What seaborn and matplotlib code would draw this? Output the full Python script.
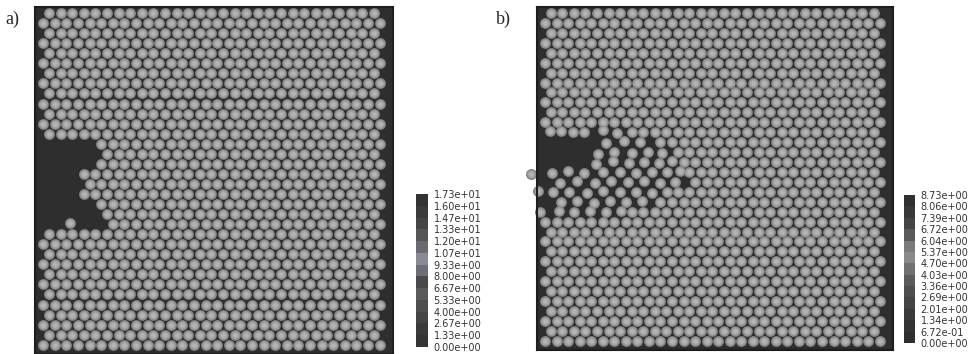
import numpy as np
import pandas as pd
import matplotlib
matplotlib.use("Agg")
import matplotlib.pyplot as plt
from matplotlib.colors import ListedColormap, BoundaryNorm
from matplotlib.cm import ScalarMappable
import seaborn as sns

sns.set_style("white")

# hexagonal packing, particle diameter = 1
n_rows = 34
n_long = 30
n_short = 29
row_step = 0.866

# panel a: rows emptied on the left side, up to this x
a_cut_rows = [12, 13, 14, 15, 16, 17, 18, 19, 20]
a_cut_x = [5.5, 5.0, 4.2, 3.3, 3.3, 3.3, 4.2, 4.8, 4.8]
a_extra_x = [2.3]
a_extra_y = [10.5]

# panel b: rows emptied on the left side, then the scattered particles
b_cut_rows = [13, 14, 15, 16, 17, 18, 19, 20, 21]
b_cut_x = [7.5, 10.0, 11.5, 12.3, 12.5, 12.0, 11.0, 9.5, 7.0]
b_extra_x = [0.4, 1.4, 2.4, 3.4, 5.0, 6.2,
             5.3, 6.8, 8.2,
             4.6, 6.0, 7.5, 8.9, 10.1,
             4.4, 5.9, 7.3, 8.6, 9.9, 11.0,
             -1.2, 0.6, 2.0, 3.4, 5.0, 6.5, 7.9, 9.3, 10.6, 11.7,
             1.3, 2.8, 4.3, 5.7, 7.2, 8.6, 10.0, 11.3,
             -0.6, 0.7, 2.1, 3.6, 5.0, 6.5, 7.9, 9.3, 10.6,
             1.4, 2.8, 4.2, 5.6, 7.0, 8.4,
             -0.45, 1.2, 2.5, 3.9, 5.3, 6.6]
b_extra_y = [18.25, 18.25, 18.2, 18.2, 18.35, 18.1,
             17.2, 17.45, 17.3,
             16.3, 16.5, 16.35, 16.5, 16.4,
             15.4, 15.65, 15.5, 15.6, 15.5, 15.65,
             14.5, 14.6, 14.8, 14.6, 14.7, 14.75, 14.6, 14.75, 14.7, 14.8,
             13.8, 13.95, 13.8, 13.9, 13.85, 13.9, 13.8, 13.85,
             13.1, 12.95, 13.0, 12.9, 13.05, 12.95, 13.0, 12.9, 13.0,
             12.1, 12.15, 12.05, 12.15, 12.1, 12.2,
             11.2, 11.3, 11.25, 11.3, 11.2, 11.3]

# colour bars
a_ticks = [0.0, 1.33, 2.67, 4.00, 5.33, 6.67, 8.00, 9.33, 10.7, 12.0, 13.3, 14.7, 16.0, 17.3]
b_ticks = [0.0, 0.672, 1.34, 2.01, 2.69, 3.36, 4.03, 4.70, 5.37, 6.04, 6.72, 7.39, 8.06, 8.73]
a_colors = ['#353535', '#3a3a3a', '#444444', '#4e4e4e', '#5a5a5a', '#4a4a4a', '#6e6e76',
            '#8a8a96', '#6a6a70', '#555555', '#454545', '#3b3b3b', '#333333']
b_colors = ['#2e2e2e', '#333333', '#3a3a3a', '#444444', '#4e4e4e', '#5c5c5c', '#707070',
            '#8a8a8a', '#7a7a7a', '#5a5a5a', '#444444', '#383838', '#303030']


def particles(cut_rows, cut_x, extra_x, extra_y):
    cuts = dict(zip(cut_rows, cut_x))
    xs, ys = [], []
    for i in range(n_rows):
        if i % 2 == 0:
            row = np.arange(n_long) * 1.0
        else:
            row = np.arange(n_short) + 0.5
        row = row[row >= cuts.get(i, -1)]
        xs += list(row)
        ys += [i * row_step] * len(row)
    xs += extra_x
    ys += extra_y
    return pd.DataFrame({"x": xs, "y": ys})


def draw_panel(ax, df):
    ax.set_facecolor('#2e2e2e')
    # shaded spheres: dark rim, grey body, light centre
    for s, c in [(62, '#7a7a7a'), (46, '#929292'), (26, '#a6a6a6'), (10, '#b4b4b4')]:
        sns.scatterplot(data=df, x="x", y="y", ax=ax, s=s, color=c,
                        linewidth=0, legend=False, clip_on=False)
    ax.set_xlim(-0.7, 30.15)
    ax.set_ylim(-0.8, 29.1)
    ax.set_xticks([])
    ax.set_yticks([])
    ax.set_xlabel("")
    ax.set_ylabel("")
    for sp in ax.spines.values():
        sp.set_color('#1e1e1e')
        sp.set_linewidth(1.5)


def draw_cbar(fig, rect, ticks, colors):
    cax = fig.add_axes(rect)
    cmap = ListedColormap(colors)
    norm = BoundaryNorm(ticks, cmap.N)
    cb = fig.colorbar(ScalarMappable(norm=norm, cmap=cmap), cax=cax, ticks=ticks)
    cb.outline.set_visible(False)
    cb.ax.set_yticklabels(["%.2e" % t for t in ticks])
    cb.ax.tick_params(length=0, pad=4, labelsize=7, labelcolor='#333333')


fig = plt.figure(figsize=(9.75, 3.54), dpi=100)

ax_a = fig.add_axes([0.0359, 0.0, 0.3672, 0.9802])
draw_panel(ax_a, particles(a_cut_rows, a_cut_x, a_extra_x, a_extra_y))

ax_b = fig.add_axes([0.5508, 0.0113, 0.3651, 0.969])
draw_panel(ax_b, particles(b_cut_rows, b_cut_x, b_extra_x, b_extra_y))

draw_cbar(fig, [0.4267, 0.0198, 0.0123, 0.432], a_ticks, a_colors)
draw_cbar(fig, [0.9272, 0.0311, 0.0113, 0.418], b_ticks, b_colors)

fig.text(0.005, 0.945, "a)", fontsize=13, family="Liberation Serif", va="center")
fig.text(0.509, 0.945, "b)", fontsize=13, family="Liberation Serif", va="center")

fig.savefig("out.png", dpi=100)
